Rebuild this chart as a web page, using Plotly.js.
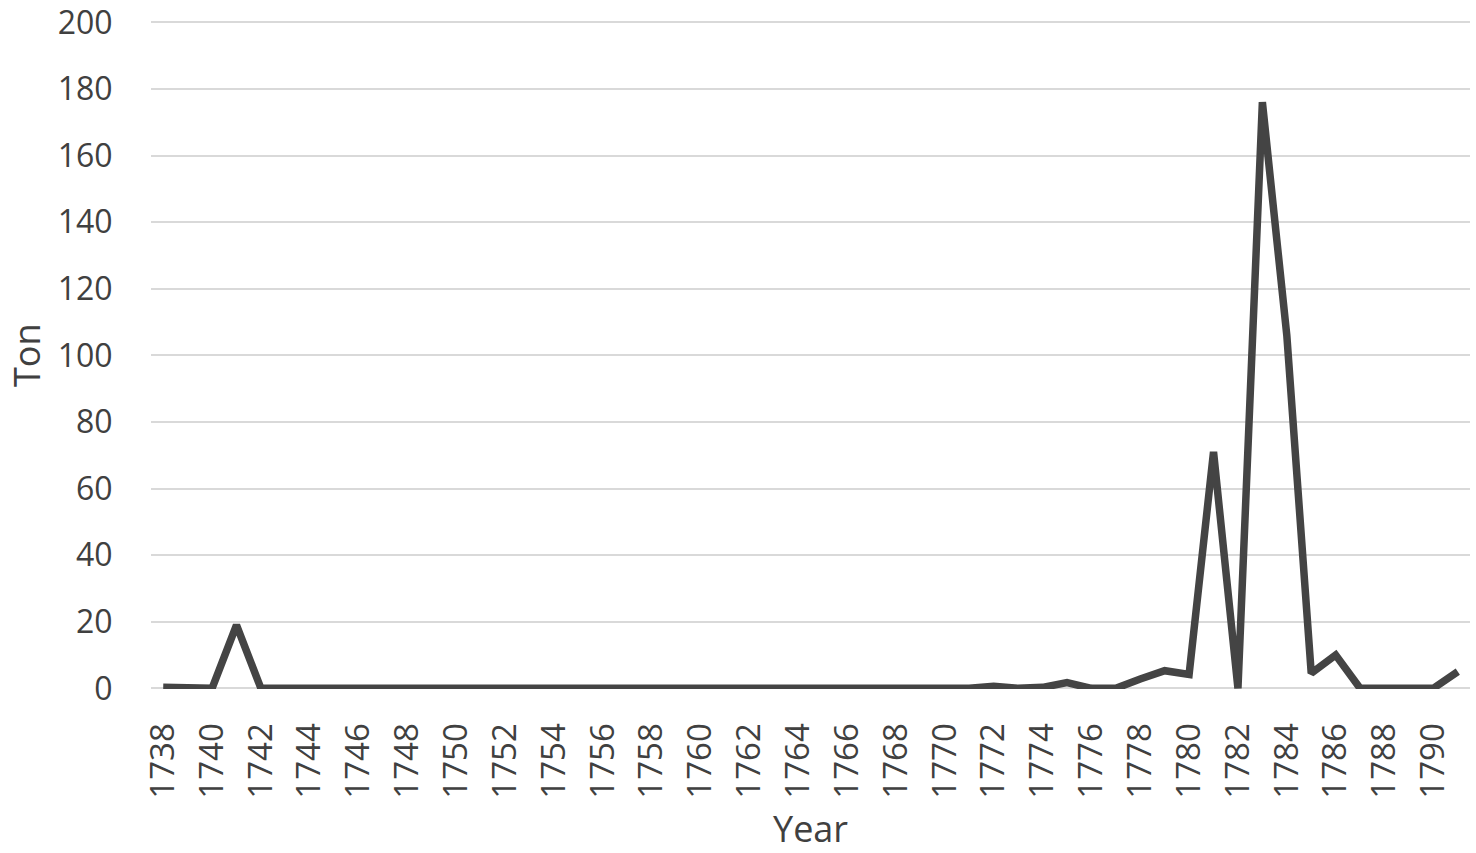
<!DOCTYPE html>
<html>
<head>
<meta charset="utf-8">
<script src="https://cdn.plot.ly/plotly-3.0.1.min.js"></script>
<style>
  html, body { margin: 0; padding: 0; background: #ffffff; }
  #chart { width: 1476px; height: 853px; }
</style>
</head>
<body>
<div id="chart"></div>
<script>
const years = [1738, 1739, 1740, 1741, 1742, 1743, 1744, 1745, 1746, 1747,
               1748, 1749, 1750, 1751, 1752, 1753, 1754, 1755, 1756, 1757,
               1758, 1759, 1760, 1761, 1762, 1763, 1764, 1765, 1766, 1767,
               1768, 1769, 1770, 1771, 1772, 1773, 1774, 1775, 1776, 1777,
               1778, 1779, 1780, 1781, 1782, 1783, 1784, 1785, 1786, 1787,
               1788, 1789, 1790, 1791];
const tons = [0.3, 0, 0, 19, 0, 0, 0, 0, 0, 0,
              0, 0, 0, 0, 0, 0, 0, 0, 0, 0,
              0, 0, 0, 0, 0, 0, 0, 0, 0, 0,
              0, 0, 0.3, 0, 0.6, 0, 0.3, 1.7, 0, 0,
              2.8, 5.3, 4.2, 71, 0, 176, 106, 4.5, 10, 0,
              0, 0.2, 0, 5];
const xTickYears = [1738, 1740, 1742, 1744, 1746, 1748, 1750, 1752, 1754, 1756,
                    1758, 1760, 1762, 1764, 1766, 1768, 1770, 1772, 1774, 1776,
                    1778, 1780, 1782, 1784, 1786, 1788, 1790];
const yTicks = [0, 20, 40, 60, 80, 100, 120, 140, 160, 180, 200];
const xTitle = 'Year';
const yTitle = 'Ton';

const textColor = '#404040';
const fontFamily = '"Open Sans", "DejaVu Sans", sans-serif';

const trace = {
  x: years,
  y: tons,
  type: 'scatter',
  mode: 'lines',
  line: { color: '#444444', width: 7.5, shape: 'linear' },
  hoverinfo: 'x+y'
};

const layout = {
  width: 1476,
  height: 853,
  margin: { l: 151, r: 6, t: 21, b: 164 },
  paper_bgcolor: '#ffffff',
  plot_bgcolor: '#ffffff',
  showlegend: false,
  font: { family: fontFamily, color: textColor, size: 33 },
  xaxis: {
    type: 'linear',
    range: [1737.5, 1791.5],
    tickmode: 'array',
    tickvals: xTickYears,
    ticktext: xTickYears.map(String),
    tickangle: -90,
    ticks: 'outside',
    ticklen: 20,
    tickcolor: 'rgba(0,0,0,0)',
    showgrid: false,
    zeroline: false,
    showline: false,
    tickfont: { family: fontFamily, size: 33, color: textColor },
    automargin: false,
    fixedrange: true
  },
  yaxis: {
    range: [-0.2, 200.4],
    tickmode: 'array',
    tickvals: yTicks,
    ticktext: yTicks.map(String),
    ticks: 'outside',
    ticklen: 31,
    tickcolor: 'rgba(0,0,0,0)',
    ticklabeloverflow: 'allow',
    showgrid: true,
    gridcolor: '#d9d9d9',
    gridwidth: 2,
    zeroline: true,
    zerolinecolor: '#d9d9d9',
    zerolinewidth: 2,
    showline: false,
    tickfont: { family: fontFamily, size: 32, color: textColor },
    automargin: false,
    fixedrange: true
  },
  annotations: [
    {
      text: xTitle, xref: 'paper', yref: 'paper',
      x: 0.5, y: -0.2085, xanchor: 'center', yanchor: 'middle',
      showarrow: false,
      font: { family: fontFamily, size: 36, color: textColor }
    },
    {
      text: yTitle, xref: 'paper', yref: 'paper',
      x: -0.0948, y: 0.5, xanchor: 'center', yanchor: 'middle',
      textangle: -90, showarrow: false,
      font: { family: fontFamily, size: 36, color: textColor }
    }
  ]
};

Plotly.newPlot('chart', [trace], layout, { displayModeBar: false, staticPlot: true });
</script>
</body>
</html>
